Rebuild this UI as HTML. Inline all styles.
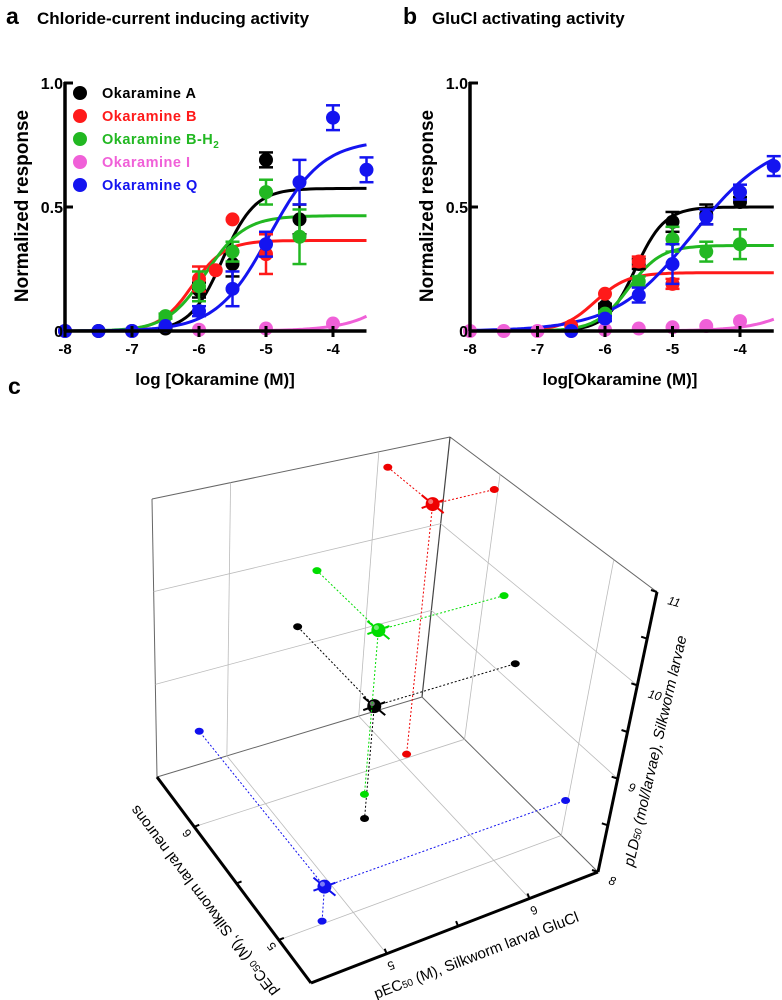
<!DOCTYPE html>
<html><head><meta charset="utf-8"><style>
body{margin:0;background:#fff;}
svg{display:block;font-family:"Liberation Sans",Arial,sans-serif;}
</style></head><body>
<svg id="fig" width="782" height="1000" viewBox="0 0 782 1000">
<text x="6" y="24" font-size="23" font-weight="bold">a</text>
<text x="37" y="24" font-size="17" font-weight="bold">Chloride-current inducing activity</text>
<text x="403" y="24" font-size="23" font-weight="bold">b</text>
<text x="432" y="24" font-size="17" font-weight="bold">GluCl activating activity</text>
<text x="8" y="394" font-size="23" font-weight="bold">c</text>
<g id="pa"></g>
<g id="pb"></g>
<g id="pc"></g>
</svg>
<script>
const NS='http://www.w3.org/2000/svg';
const xTicks=[-8,-7,-6,-5,-4];
const yTicks=[0,0.5,1.0];
const yTickLabels=['0','0.5','1.0'];
const seriesNames=['Okaramine A','Okaramine B','Okaramine B-H','Okaramine I','Okaramine Q'];
const seriesColors=['#000000','#ff1a1a','#22b822','#f060d8','#1414f0'];
// panel a
const aAx=[-8,-7.5,-7,-6.5,-6,-5.5,-5,-4.5];
const aAy=[0,0,0,0.01,0.165,0.27,0.69,0.45];
const aAe=[0,0,0,0.01,0.03,0.05,0.03,0.06];
const aBx=[-6,-5.75,-5.5,-5];
const aBy=[0.21,0.245,0.45,0.31];
const aBe=[0.05,0,0,0.08];
const aGx=[-6.5,-6,-5.5,-5,-4.5];
const aGy=[0.06,0.18,0.32,0.56,0.38];
const aGe=[0.01,0.06,0.04,0.05,0.11];
const aIx=[-8,-7,-6,-5,-4];
const aIy=[0,0,0.005,0.01,0.03];
const aIe=[0,0,0,0,0];
const aQx=[-8,-7.5,-7,-6.5,-6,-5.5,-5,-4.5,-4,-3.5];
const aQy=[0,0,0,0.02,0.08,0.17,0.35,0.6,0.86,0.65];
const aQe=[0,0,0,0,0.02,0.07,0.05,0.09,0.05,0.05];
const aFitTop=[0.575,0.365,0.465,1.0,0.77];
const aFitEc=[-5.65,-6.1,-5.9,-2.3,-4.95];
const aFitH=[1.8,1.8,1.5,1.0,1.1];
// panel b
const bAx=[-6,-5.5,-5,-4.5,-4];
const bAy=[0.1,0.27,0.44,0.47,0.52];
const bAe=[0.01,0.02,0.04,0.04,0.02];
const bBx=[-6.5,-6,-5.5,-5];
const bBy=[0.02,0.15,0.28,0.19];
const bBe=[0,0,0.02,0.02];
const bGx=[-6,-5.5,-5,-4.5,-4];
const bGy=[0.07,0.2,0.37,0.32,0.35];
const bGe=[0.01,0.02,0.05,0.04,0.06];
const bIx=[-8,-7.5,-7,-6.5,-6,-5.5,-5,-4.5,-4];
const bIy=[0,0,0,0,0.005,0.01,0.015,0.02,0.04];
const bIe=[0,0,0,0,0,0,0,0,0];
const bQx=[-6.5,-6,-5.5,-5,-4.5,-4,-3.5];
const bQy=[0,0.05,0.145,0.27,0.46,0.56,0.665];
const bQe=[0,0.01,0.03,0.08,0.03,0.03,0.04];
const bFitTop=[0.5,0.235,0.345,1.0,0.78];
const bFitEc=[-5.55,-6.15,-5.65,-2.2,-4.7];
const bFitH=[2.0,1.8,1.8,1.0,0.75];
// panel c (pEC50 neurons, pEC50 GluCl, pLD50)
const cNames=['okaramine-a','okaramine-b','okaramine-bh2','okaramine-q'];
const cColors=['#000000','#ee0000','#00dd00','#1010ee'];
const cNeur=[5.65,6.03,5.83,5.02];
const cGlu=[5.5,6.07,5.62,4.79];
const cLD=[9.22,10.8,9.8,8.36];
const cNeurTicks=[5,5.5,6];
const cGluTicks=[5,5.5,6];
const cLDTicks=[8,8.5,9,9.5,10,10.5,11];

function mk(tag,attrs,parent,name){const e=document.createElementNS(NS,tag);for(const k in attrs)e.setAttribute(k,attrs[k]);


parent.appendChild(e);return e;}

function panel(g,x0,pxDec,xs,ys,es,top,ec,h,legend,xlabel){
  const y0=331,ys1=248;
  const X=v=>x0+(v+8)*pxDec, Y=v=>y0-v*ys1;
  for(let s=0;s<5;s++){
    let d='';
    for(let i=0;i<=90;i++){const lx=-8+i*4.5/90;const v=top[s]/(1+Math.pow(10,(ec[s]-lx)*h[s]));d+=(i?'L':'M')+X(lx).toFixed(1)+','+Y(v).toFixed(1);}
    mk('path',{d:d,fill:'none',stroke:seriesColors[s],'stroke-width':3},g,'fit-curve-'+s);
  }
  for(let s=0;s<5;s++){
    for(let i=0;i<xs[s].length;i++){
      const cx=X(xs[s][i]),cy=Y(ys[s][i]),e=es[s][i];
      if(e>0){
        mk('line',{x1:cx,x2:cx,y1:Y(ys[s][i]+e),y2:Y(ys[s][i]-e),stroke:seriesColors[s],'stroke-width':2.5},g,'error-bar');
        mk('line',{x1:cx-7,x2:cx+7,y1:Y(ys[s][i]+e),y2:Y(ys[s][i]+e),stroke:seriesColors[s],'stroke-width':2.5},g,'error-cap');
        mk('line',{x1:cx-7,x2:cx+7,y1:Y(ys[s][i]-e),y2:Y(ys[s][i]-e),stroke:seriesColors[s],'stroke-width':2.5},g,'error-cap');
      }
      mk('circle',{cx:cx,cy:cy,r:7,fill:seriesColors[s]},g,'data-point-'+s);
    }
  }
  mk('line',{x1:x0,x2:X(-3.5),y1:y0,y2:y0,stroke:'#000','stroke-width':3.5},g,'x-axis');
  mk('line',{x1:x0,x2:x0,y1:y0,y2:Y(1)-1,stroke:'#000','stroke-width':3.5},g,'y-axis');
  xTicks.forEach(t=>{mk('line',{x1:X(t),x2:X(t),y1:y0-5,y2:y0+6,stroke:'#000','stroke-width':3},g,'x-tick');
    const tx=mk('text',{x:X(t),y:y0+23,'font-size':15,'font-weight':'bold','text-anchor':'middle'},g,'x-tick-label');tx.textContent=String(t);});
  yTicks.forEach((t,i)=>{mk('line',{x1:x0-1,x2:x0+8,y1:Y(t),y2:Y(t),stroke:'#000','stroke-width':3},g,'y-tick');
    const tx=mk('text',{x:x0-2,y:Y(t)+6,'font-size':16,'font-weight':'bold','text-anchor':'end'},g,'y-tick-label');tx.textContent=yTickLabels[i];});
  const yl=mk('text',{x:0,y:0,'font-size':19,'font-weight':'bold','text-anchor':'middle',transform:`translate(${x0-37},206) rotate(-90)`},g,'y-axis-title');yl.textContent='Normalized response';
  const xl=mk('text',{x:x0+150,y:385,'font-size':17,'font-weight':'bold','text-anchor':'middle'},g,'x-axis-title');xl.textContent=xlabel;
  if(legend){
    for(let s=0;s<5;s++){
      const ly=93+s*23;
      mk('circle',{cx:80,cy:ly,r:7,fill:seriesColors[s]},g,'legend-marker');
      const t=mk('text',{x:102,y:ly+5,'font-size':14.5,'font-weight':'bold',fill:seriesColors[s],'letter-spacing':0.5},g,'legend-entry');
      t.textContent=seriesNames[s];
      if(s==2){const sub=document.createElementNS(NS,'tspan');sub.setAttribute('font-size','10');sub.setAttribute('dy','4');sub.textContent='2';t.appendChild(sub);}
    }
  }
}
panel(document.getElementById('pa'),65,67,[aAx,aBx,aGx,aIx,aQx],[aAy,aBy,aGy,aIy,aQy],[aAe,aBe,aGe,aIe,aQe],aFitTop,aFitEc,aFitH,true,'log [Okaramine (M)]');
panel(document.getElementById('pb'),470,67.5,[bAx,bBx,bGx,bIx,bQx],[bAy,bBy,bGy,bIy,bQy],[bAe,bBe,bGe,bIe,bQe],bFitTop,bFitEc,bFitH,false,'log[Okaramine (M)]');

// panel c
const gc=document.getElementById('pc');
const N0=4.62,N1=6.44,G0=4.47,G1=6.48,Z0=8,Z1=11;
const C={F0:[311,983],L0:[157,777],R0:[598,872],B0:[422,697],F1:[330,690],L1:[152,499],R1:[657,592],B1:[450,437]};
function P(n,gv,z){
  const v=(n-N0)/(N1-N0),u=(gv-G0)/(G1-G0),w=(z-Z0)/(Z1-Z0);
  function bil(F,R,L,B){return [0,1].map(k=>F[k]*(1-u)*(1-v)+R[k]*u*(1-v)+L[k]*(1-u)*v+B[k]*u*v);}
  const a=bil(C.F0,C.R0,C.L0,C.B0),b=bil(C.F1,C.R1,C.L1,C.B1);
  return [a[0]*(1-w)+b[0]*w,a[1]*(1-w)+b[1]*w];
}
function ln(p,q,st,sw,nm,dash){const a={x1:p[0],y1:p[1],x2:q[0],y2:q[1],stroke:st,'stroke-width':sw};if(dash)a['stroke-dasharray']=dash;return mk('line',a,gc,nm);}
const grid='#bbbbbb';
ln(P(N1,G0,Z0),P(N1,G0,Z1),'#666',1,'box-edge');
ln(P(N1,G0,Z1),P(N1,G1,Z1),'#666',1,'box-edge');
ln(P(N1,G1,Z1),P(N0,G1,Z1),'#666',1,'box-edge');
ln(P(N1,G1,Z0),P(N1,G1,Z1),'#444',1.2,'box-edge');
ln(P(N1,G0,Z0),P(N1,G1,Z0),'#666',1,'box-edge');
ln(P(N1,G1,Z0),P(N0,G1,Z0),'#666',1,'box-edge');
[5,6].forEach(n=>{ln(P(n,G0,Z0),P(n,G1,Z0),grid,0.8,'floor-grid');ln(P(n,G1,Z0),P(n,G1,Z1),grid,0.8,'wall-grid');});
[5,6].forEach(gv=>{ln(P(N0,gv,Z0),P(N1,gv,Z0),grid,0.8,'floor-grid');ln(P(N1,gv,Z0),P(N1,gv,Z1),grid,0.8,'wall-grid');});
[9,10].forEach(z=>{ln(P(N1,G0,z),P(N1,G1,z),grid,0.8,'wall-grid');ln(P(N1,G1,z),P(N0,G1,z),grid,0.8,'wall-grid');});
for(let i=0;i<cNames.length;i++){
  const col=cColors[i];
  const s=P(cNeur[i],cGlu[i],cLD[i]);
  const fl=P(cNeur[i],cGlu[i],Z0),wl=P(N1,cGlu[i],cLD[i]),wr=P(cNeur[i],G1,cLD[i]);
  [fl,wl,wr].forEach(p=>{ln(s,p,col,1,'projection-line-'+cNames[i],'2,2');
    mk('ellipse',{cx:p[0],cy:p[1],rx:4.5,ry:3.5,fill:col},gc,'projection-dot-'+cNames[i]);});
  ln([s[0]-11,s[1]-9],[s[0]+11,s[1]+9],col,2,'error-bar-'+cNames[i]);
  ln([s[0]-11,s[1]+4],[s[0]+11,s[1]-4],col,2,'error-bar-'+cNames[i]);
  mk('circle',{cx:s[0],cy:s[1],r:7,fill:col},gc,'sphere-'+cNames[i]);
  mk('circle',{cx:s[0]-2,cy:s[1]-2.5,r:2.5,fill:'#fff',opacity:0.45},gc,'sphere-highlight');
}
ln(P(N0,G0,Z0),P(N1,G0,Z0),'#000',3,'neurons-axis');
ln(P(N0,G0,Z0),P(N0,G1,Z0),'#000',3,'glucl-axis');
ln(P(N0,G1,Z0),P(N0,G1,Z1),'#000',3,'ld50-axis');
cNeurTicks.forEach(t=>{const p=P(t,G0,Z0);ln(p,[p[0]+5,p[1]-2],'#000',2,'neurons-tick');
  if(t%1==0){const tx=mk('text',{x:0,y:0,'font-size':12,transform:`translate(${p[0]-4},${p[1]+4}) rotate(233)`,'text-anchor':'middle'},gc,'neurons-tick-label');tx.textContent=String(t);}});
cGluTicks.forEach(t=>{const p=P(N0,t,Z0);ln(p,[p[0]-2,p[1]-5],'#000',2,'glucl-tick');
  if(t%1==0){const tx=mk('text',{x:0,y:0,'font-size':12,transform:`translate(${p[0]+3},${p[1]+8}) rotate(159)`,'text-anchor':'middle'},gc,'glucl-tick-label');tx.textContent=String(t);}});
cLDTicks.forEach(t=>{const p=P(N0,G1,t);ln(p,[p[0]-6,p[1]-2],'#000',2,'ld50-tick');
  if(t%1==0){const tx=mk('text',{x:p[0]+10,y:p[1]+12,'font-size':12,'font-style':'italic',transform:`rotate(15 ${p[0]+10} ${p[1]+12})`},gc,'ld50-tick-label');tx.textContent=String(t);}});
function lab(txt,x,y,rot,nm,italic){const t=mk('text',{x:0,y:0,'font-size':15,transform:`translate(${x},${y}) rotate(${rot})`,'text-anchor':'middle','font-style':italic?'italic':'normal'},gc,nm);
  const parts=txt.split('50');t.appendChild(document.createTextNode(parts[0]));
  const sb=document.createElementNS(NS,'tspan');sb.setAttribute('font-size','10');sb.textContent='50';t.appendChild(sb);
  t.appendChild(document.createTextNode(parts[1]));}
lab('pEC50 (M), Silkworm larval neurons',208,898,233,'neurons-axis-title',false);
lab('pEC50 (M), Silkworm larval GluCl',478,960,-21,'glucl-axis-title',false);
lab('pLD50 (mol/larvae), Silkworm larvae',660,752,-77,'ld50-axis-title',true);
</script>
</body></html>
